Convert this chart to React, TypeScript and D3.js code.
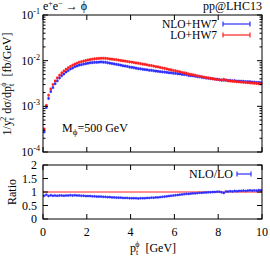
import * as React from 'react';
import { scaleLinear, scaleLog, range } from 'd3';

// bins of 0.1 GeV from 0 to 10
const binWidth = 0.1;

const loValues = [
  0.00032, 0.00105, 0.00175, 0.0024, 0.003, 0.0036, 0.0042, 0.0048, 0.0054, 0.00595,
  0.0065, 0.007, 0.0075, 0.00795, 0.0084, 0.0088, 0.0092, 0.0095, 0.0098, 0.0101,
  0.01035, 0.0106, 0.0108, 0.01095, 0.0111, 0.0112, 0.0113, 0.0113, 0.01125, 0.0111,
  0.0109, 0.0108, 0.0106, 0.0105, 0.0103, 0.0101, 0.0099, 0.0098, 0.0096, 0.0094,
  0.0093, 0.0091, 0.0089, 0.0088, 0.0086, 0.0084, 0.0083, 0.0081, 0.0079, 0.0078,
  0.0076, 0.0074, 0.0073, 0.0071, 0.0069, 0.0068, 0.0066, 0.0064, 0.0063, 0.0061,
  0.006, 0.0058, 0.0057, 0.0055, 0.0054, 0.0053, 0.0051, 0.005, 0.0049, 0.0048,
  0.00465, 0.00455, 0.00445, 0.00435, 0.00425, 0.00418, 0.0041, 0.00402, 0.00395, 0.00388,
  0.0038, 0.00378, 0.0039, 0.0037, 0.00362, 0.00358, 0.00354, 0.0035, 0.00346, 0.00343,
  0.0034, 0.00336, 0.00333, 0.0033, 0.00326, 0.00323, 0.0032, 0.00317, 0.00312, 0.0031,
];

const nloValues = [
  0.000275, 0.000945, 0.00149, 0.00211, 0.00258, 0.00313, 0.00361, 0.00418, 0.0047, 0.00512,
  0.00566, 0.00609, 0.0066, 0.00692, 0.00739, 0.00766, 0.008, 0.00817, 0.00843, 0.00859,
  0.0088, 0.00901, 0.00907, 0.0092, 0.00921, 0.0093, 0.00938, 0.00927, 0.00922, 0.00899,
  0.00883, 0.00864, 0.00848, 0.0083, 0.00814, 0.00798, 0.00772, 0.00764, 0.00749, 0.00724,
  0.00716, 0.00701, 0.00685, 0.00669, 0.00662, 0.00647, 0.00639, 0.00632, 0.00616, 0.00616,
  0.006, 0.00592, 0.00584, 0.00575, 0.00566, 0.00564, 0.00554, 0.00544, 0.00542, 0.00531,
  0.00528, 0.00516, 0.00513, 0.005, 0.00497, 0.00493, 0.00474, 0.0047, 0.00466, 0.00456,
  0.00446, 0.00441, 0.00432, 0.00426, 0.00417, 0.00414, 0.00406, 0.00402, 0.00395, 0.00392,
  0.00384, 0.00374, 0.00376, 0.00377, 0.00369, 0.00369, 0.00361, 0.00364, 0.00356, 0.00357,
  0.00354, 0.00353, 0.00346, 0.00347, 0.00346, 0.00339, 0.00339, 0.00333, 0.00334, 0.00329,
];

const xTicks = [0, 2, 4, 6, 8, 10];
const logDecades = [-4, -3, -2, -1];
const ratioTicks = [0, 0.5, 1, 1.5, 2];

const RED = '#ff1f1f';
const BLUE = '#2f2fff';
const FONT = '"Liberation Serif", "DejaVu Serif", serif';

const X0 = 43;
const X1 = 262;

export default function App(): JSX.Element {
  const x = scaleLinear().domain([0, 10]).range([X0, X1]);
  const yTop = scaleLog().domain([1e-4, 1e-1]).range([152, 15]);
  const yRat = scaleLinear().domain([0, 2]).range([219, 165]);
  const bw = x(binWidth) - x(0);

  const ratio = nloValues.map((v, i) => v / loValues[i]);

  const minorTicks: number[] = [];
  logDecades.slice(0, 3).forEach(d => {
    range(2, 10).forEach(m => minorTicks.push(m * Math.pow(10, d)));
  });

  // each bin: a short horizontal bar plus a small vertical error bar
  const points = (vals: number[], y: (v: number) => number, color: string, h: number) =>
    vals.map((v, i) => {
      const cy = y(v);
      return (
        <g key={i}>
          <rect x={x(i * binWidth)} y={cy - h / 2} width={bw + 0.2} height={h} fill={color} />
          <line x1={x((i + 0.5) * binWidth)} x2={x((i + 0.5) * binWidth)}
            y1={cy - h / 2 - 0.5} y2={cy + h / 2 + 0.5} stroke={color} strokeWidth={0.8} />
        </g>
      );
    });

  const [yt0, yt1] = [yTop.range()[1], yTop.range()[0]];
  const [yr0, yr1] = [yRat.range()[1], yRat.range()[0]];

  return (
    <svg width={270} height={256} style={{ position: 'absolute', left: 0, top: 0 }}
      fontFamily={FONT} fontSize={12}>
      <rect width={270} height={256} fill="white" />

      {/* top panel data */}
      {points(nloValues, yTop, BLUE, 2.2)}
      {points(loValues, yTop, RED, 2.2)}

      {/* ratio panel */}
      <line x1={x(0)} x2={x(10)} y1={yRat(1)} y2={yRat(1)} stroke={RED} strokeWidth={1.2} />
      {points(ratio, yRat, BLUE, 1.8)}

      {/* frames */}
      <rect x={X0} y={yt0} width={X1 - X0} height={yt1 - yt0} fill="none" stroke="black" strokeWidth={1} />
      <rect x={X0} y={yr0} width={X1 - X0} height={yr1 - yr0} fill="none" stroke="black" strokeWidth={1} />

      {/* x ticks */}
      {xTicks.map(t => (
        <g key={'xt' + t} stroke="black" strokeWidth={1}>
          <line x1={x(t)} x2={x(t)} y1={yt1} y2={yt1 - 5} />
          <line x1={x(t)} x2={x(t)} y1={yt0} y2={yt0 + 5} />
          <line x1={x(t)} x2={x(t)} y1={yr1} y2={yr1 - 5} />
          <line x1={x(t)} x2={x(t)} y1={yr0} y2={yr0 + 5} />
        </g>
      ))}
      {xTicks.map(t => (
        <text key={'xl' + t} x={x(t)} y={236} textAnchor="middle">{t}</text>
      ))}

      {/* log y ticks */}
      {logDecades.map(d => (
        <g key={'yd' + d}>
          <line x1={X0} x2={X0 + 5} y1={yTop(Math.pow(10, d))} y2={yTop(Math.pow(10, d))} stroke="black" />
          <line x1={X1} x2={X1 - 5} y1={yTop(Math.pow(10, d))} y2={yTop(Math.pow(10, d))} stroke="black" />
          <text x={40} y={yTop(Math.pow(10, d)) + 4} textAnchor="end">
            10<tspan dy={-5} fontSize={8}>{d}</tspan>
          </text>
        </g>
      ))}
      {minorTicks.map(v => (
        <g key={'ym' + v} stroke="black">
          <line x1={X0} x2={X0 + 2.5} y1={yTop(v)} y2={yTop(v)} />
          <line x1={X1} x2={X1 - 2.5} y1={yTop(v)} y2={yTop(v)} />
        </g>
      ))}

      {/* ratio y ticks */}
      {ratioTicks.map(t => (
        <g key={'rt' + t}>
          <line x1={X0} x2={X0 + 5} y1={yRat(t)} y2={yRat(t)} stroke="black" />
          <line x1={X1} x2={X1 - 5} y1={yRat(t)} y2={yRat(t)} stroke="black" />
          <text x={37} y={yRat(t) + 4} textAnchor="end">{t}</text>
        </g>
      ))}

      {/* titles */}
      <text x={43} y={10}>
        e<tspan dy={-4} fontSize={8}>+</tspan><tspan dy={4}>e</tspan><tspan dy={-4} fontSize={8}>−</tspan>
        <tspan dy={4}> → ϕ</tspan>
      </text>
      <text x={262} y={10} textAnchor="end">pp@LHC13</text>

      {/* legends */}
      <g fontSize={11.5}>
        <text x={217} y={28} textAnchor="end">NLO+HW7</text>
        <text x={217} y={39} textAnchor="end">LO+HW7</text>
      </g>
      <g stroke={BLUE} strokeWidth={1.2}>
        <line x1={223} x2={250} y1={24} y2={24} />
        <line x1={223} x2={223} y1={21.5} y2={26.5} />
        <line x1={250} x2={250} y1={21.5} y2={26.5} />
      </g>
      <g stroke={RED} strokeWidth={1.2}>
        <line x1={223} x2={250} y1={35} y2={35} />
        <line x1={223} x2={223} y1={32.5} y2={37.5} />
        <line x1={250} x2={250} y1={32.5} y2={37.5} />
      </g>
      <text x={233} y={178} textAnchor="end">NLO/LO</text>
      <g stroke={BLUE} strokeWidth={1.2}>
        <line x1={237} x2={251} y1={174} y2={174} />
        <line x1={237} x2={237} y1={171.5} y2={176.5} />
        <line x1={251} x2={251} y1={171.5} y2={176.5} />
      </g>

      <text x={62} y={132}>
        M<tspan dy={3} fontSize={9}>ϕ</tspan><tspan dy={-3}>=500 GeV</tspan>
      </text>

      {/* axis labels */}
      <text transform="translate(11,84) rotate(-90)" textAnchor="middle">
        1/y<tspan dy={3} fontSize={8}>t</tspan><tspan dy={-8} dx={-3} fontSize={8}>2</tspan>
        <tspan dy={5}> dσ/dp</tspan><tspan dy={3} fontSize={8}>t</tspan><tspan dy={-8} dx={-3} fontSize={8}>ϕ</tspan>
        <tspan dy={5}>{'\u00a0\u00a0[fb/GeV]'}</tspan>
      </text>
      <text transform="translate(16,192) rotate(-90)" textAnchor="middle">Ratio</text>
      <text x={153} y={252} textAnchor="middle">
        p<tspan dy={3} fontSize={8}>t</tspan><tspan dy={-8} dx={-3} fontSize={8}>ϕ</tspan>
        <tspan dy={5}>{'\u00a0\u00a0[GeV]'}</tspan>
      </text>
    </svg>
  );
}
